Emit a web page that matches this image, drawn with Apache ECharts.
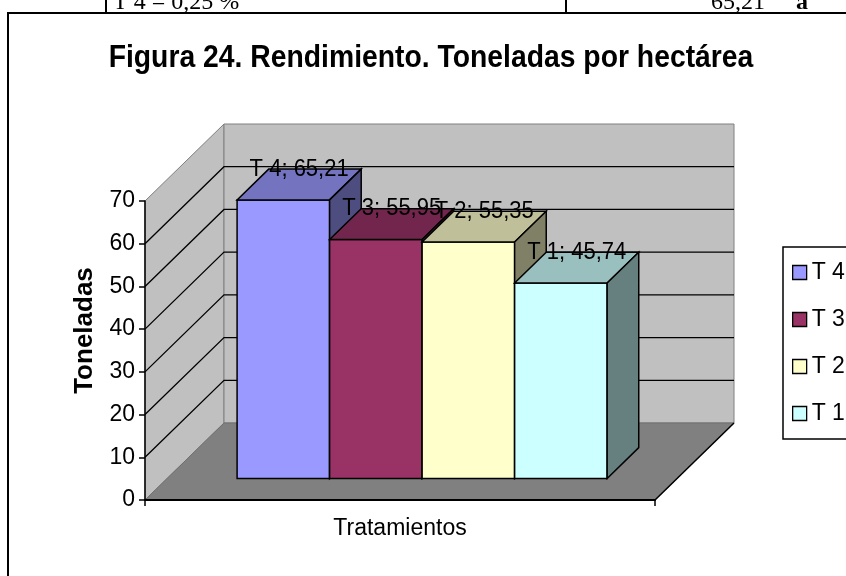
<!DOCTYPE html>
<html>
<head>
<meta charset="utf-8">
<script src="https://cdn.jsdelivr.net/npm/echarts@6/dist/echarts.min.js"></script>
<style>
  html, body { margin: 0; padding: 0; background: #fff; }
  #main { width: 846px; height: 576px; }
</style>
</head>
<body>
<div id="main"></div>
<script>
// datos del grafico
var categories = [''];
var seriesNames = ['T 4', 'T 3', 'T 2', 'T 1'];
var seriesValues = [65.21, 55.95, 55.35, 45.74];
var yTicks = [0, 10, 20, 30, 40, 50, 60, 70];

// estilo
var barColors = ['#9999FF', '#993366', '#FFFFCC', '#CCFFFF'];
var DEPTH = [79, -77];   // profundidad del piso (px)
var FRONT = 0.28;        // posicion de la cara frontal de las barras
var BAR_D = 0.40;        // profundidad de la barra
var BAR_W = 0.1814;      // ancho de barra / ancho de categoria
var FONT = 'Liberation Sans, Arial, sans-serif';

var myChart = echarts.init(document.getElementById('main'));

//oscurecer color
function shade (hex, f) {
  var n = parseInt(hex.slice(1), 16);
  var r = Math.round(((n >> 16) & 255) * f);
  var g = Math.round(((n >> 8) & 255) * f);
  var b = Math.round((n & 255) * f);
  return 'rgb(' + r + ',' + g + ',' + b + ')';
}

function fmt (v) {
  return v.toFixed(2).replace('.', ',');
}

//paredes y piso
function renderWalls (params, api) {
  var cs = params.coordSys;
  var x0 = cs.x, x1 = cs.x + cs.width;
  var y0 = api.coord([0, yTicks[0]])[1];
  var yTop = api.coord([0, yTicks[yTicks.length - 1]])[1];
  var dx = DEPTH[0], dy = DEPTH[1];
  var children = [
    {
      type: 'polygon',
      shape: { points: [[x0, y0], [x0, yTop], [x0 + dx, yTop + dy], [x0 + dx, y0 + dy]] },
      style: { fill: '#C0C0C0', stroke: '#808080', lineWidth: 1 }
    },
    {
      type: 'rect',
      shape: { x: x0 + dx, y: yTop + dy, width: cs.width, height: y0 - yTop },
      style: { fill: '#C0C0C0', stroke: '#808080', lineWidth: 1 }
    },
    {
      type: 'polygon',
      shape: { points: [[x0, y0], [x1, y0], [x1 + dx, y0 + dy], [x0 + dx, y0 + dy]] },
      style: { fill: '#808080', stroke: '#707070', lineWidth: 1 }
    },
    {
      type: 'line',
      shape: { x1: x1, y1: y0, x2: x1 + dx, y2: y0 + dy },
      style: { stroke: '#000', lineWidth: 1.5 }
    }
  ];
  for (var k = 1; k < yTicks.length - 1; k++) {
    var yv = api.coord([0, yTicks[k]])[1];
    children.push({
      type: 'polyline',
      shape: { points: [[x0, yv], [x0 + dx, yv + dy], [x1 + dx, yv + dy]] },
      style: { stroke: '#000', lineWidth: 1.3, fill: null }
    });
  }
  return { type: 'group', children: children };
}

//barras 3D
function renderBar (params, api) {
  var i = seriesNames.indexOf(params.seriesName);
  var v = api.value(1);
  var c = barColors[i];
  var cs = params.coordSys;
  var bw = cs.width * BAR_W;
  var m = (cs.width - seriesNames.length * bw) / 2;
  var fx = DEPTH[0] * FRONT, fy = DEPTH[1] * FRONT;
  var bx = DEPTH[0] * BAR_D, by = DEPTH[1] * BAR_D;
  var xl = cs.x + m + i * bw + fx;
  var xr = xl + bw;
  var yb = api.coord([0, 0])[1] + fy;
  var yt = api.coord([0, v])[1] + fy;
  return {
    type: 'group',
    children: [
      {
        type: 'rect',
        shape: { x: xl, y: yt, width: bw, height: yb - yt },
        style: { fill: c, stroke: '#000', lineWidth: 1.5 }
      },
      {
        type: 'polygon',
        shape: { points: [[xl, yt], [xr, yt], [xr + bx, yt + by], [xl + bx, yt + by]] },
        style: { fill: shade(c, 0.75), stroke: '#000', lineWidth: 1.5 }
      },
      {
        type: 'polygon',
        shape: { points: [[xr, yt], [xr + bx, yt + by], [xr + bx, yb + by], [xr, yb]] },
        style: { fill: shade(c, 0.5), stroke: '#000', lineWidth: 1.5 }
      },
      {
        type: 'text',
        z2: 100,
        x: (xl + xr) / 2 + bx / 2,
        y: yt + by,
        scaleY: 1.08,
        style: {
          text: params.seriesName + '; ' + fmt(v),
          x: 0,
          y: 0,
          align: 'center',
          verticalAlign: 'middle',
          fontSize: 22,
          fontFamily: FONT,
          fill: '#000'
        }
      }
    ]
  };
}

var series = [{
  name: 'fondo',
  type: 'custom',
  z: 1,
  silent: true,
  renderItem: renderWalls,
  data: [[0, 0]]
}];
for (var i = 0; i < seriesNames.length; i++) {
  series.push({
    name: seriesNames[i],
    type: 'custom',
    z: 2,
    itemStyle: { color: barColors[i], borderColor: '#000', borderWidth: 1 },
    renderItem: renderBar,
    encode: { x: 0, y: 1 },
    data: [[0, seriesValues[i]]]
  });
}

var option = {
  animation: false,
  backgroundColor: '#fff',
  textStyle: { fontFamily: FONT, color: '#000' },
  grid: { left: 145, top: 201, width: 510, height: 299 },
  legend: {
    data: seriesNames,
    orient: 'vertical',
    left: 783,
    top: 247,
    padding: [14, 40, 14, 9],
    itemGap: 24,
    itemWidth: 14,
    itemHeight: 14,
    icon: 'rect',
    itemStyle: { borderColor: '#000', borderWidth: 1.3 },
    borderColor: '#000',
    borderWidth: 1.5,
    borderRadius: 0,
    backgroundColor: '#fff',
    textStyle: { fontSize: 23, fontFamily: FONT, color: '#000' }
  },
  xAxis: {
    type: 'category',
    data: categories,
    z: 5,
    name: 'Tratamientos',
    nameLocation: 'middle',
    nameGap: 17,
    nameTextStyle: { fontSize: 23, fontFamily: FONT, color: '#000' },
    axisLine: { lineStyle: { color: '#000', width: 2 } },
    axisTick: { show: true, length: 6, lineStyle: { color: '#000', width: 1.5 } },
    axisLabel: { show: false },
    splitLine: { show: false }
  },
  yAxis: {
    type: 'value',
    min: yTicks[0],
    max: yTicks[yTicks.length - 1],
    interval: 10,
    z: 5,
    name: 'Toneladas',
    nameLocation: 'middle',
    nameRotate: 90,
    nameGap: 47,
    nameTextStyle: { fontSize: 26, fontWeight: 'bold', fontFamily: FONT, color: '#000', padding: [0, 0, 0, 40] },
    axisLine: { show: true, lineStyle: { color: '#000', width: 1.5 } },
    axisTick: { show: true, length: 6, lineStyle: { color: '#000', width: 1.5 } },
    axisLabel: { fontSize: 23, margin: 10, color: '#000', fontFamily: FONT },
    splitLine: { show: false }
  },
  graphic: [
    { type: 'line', shape: { x1: 8, y1: 13, x2: 846, y2: 13 }, style: { stroke: '#000', lineWidth: 2 } },
    { type: 'line', shape: { x1: 8, y1: 12, x2: 8, y2: 576 }, style: { stroke: '#000', lineWidth: 2 } },
    { type: 'line', shape: { x1: 106, y1: 0, x2: 106, y2: 12 }, style: { stroke: '#000', lineWidth: 2 } },
    { type: 'line', shape: { x1: 566, y1: 0, x2: 566, y2: 12 }, style: { stroke: '#000', lineWidth: 2 } },
    { type: 'text', x: 113, y: 3, style: { text: 'T 4 = 0,25 %', fontSize: 24, fontFamily: 'Liberation Serif', fill: '#000', verticalAlign: 'middle' } },
    { type: 'text', x: 711, y: 3, style: { text: '65,21', fontSize: 24, fontFamily: 'Liberation Serif', fill: '#000', verticalAlign: 'middle' } },
    { type: 'text', x: 796, y: 3, style: { text: 'a', fontSize: 24, fontWeight: 'bold', fontFamily: 'Liberation Serif', fill: '#000', verticalAlign: 'middle' } },
    {
      type: 'text', x: 431, y: 58, scaleX: 0.885,
      style: {
        text: 'Figura 24. Rendimiento. Toneladas por hectárea',
        fontSize: 32, fontWeight: 'bold', fontFamily: FONT, fill: '#000',
        align: 'center', verticalAlign: 'middle'
      }
    }
  ],
  series: series
};

myChart.setOption(option);
</script>
</body>
</html>
